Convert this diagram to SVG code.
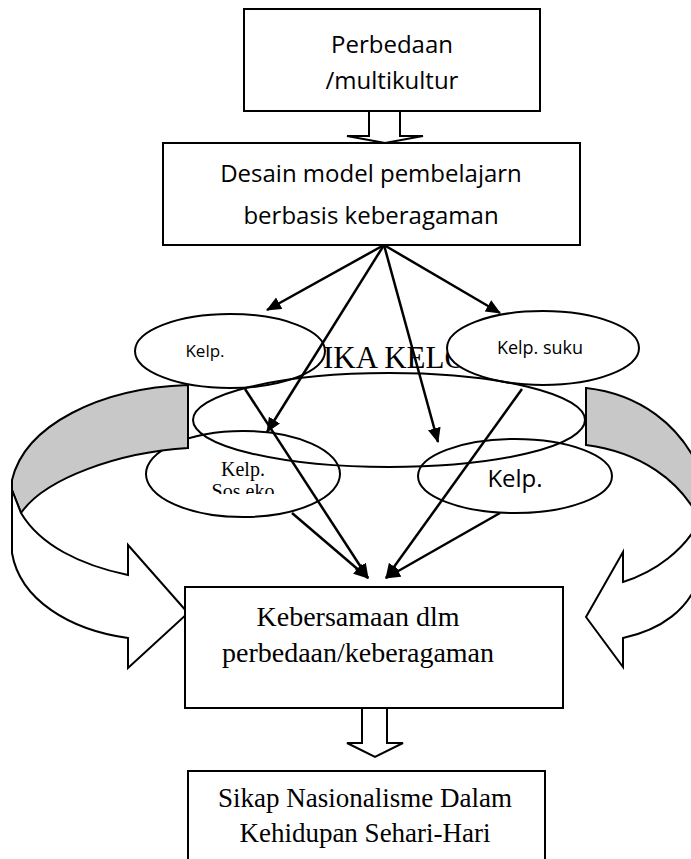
<svg xmlns="http://www.w3.org/2000/svg" width="691" height="859" viewBox="0 0 691 859">
<style>
.box{fill:#fff;stroke:#000;stroke-width:2}
.ell{fill:#fff;stroke:#000;stroke-width:2}
.ell0{fill:none;stroke:#000;stroke-width:2}
.blk{fill:#fff;stroke:#000;stroke-width:2;stroke-linejoin:miter}
.gray{fill:#c8c8c8;stroke:#000;stroke-width:2}
.sans{font-family:"Open Sans","Noto Sans",sans-serif;fill:#000}
.serif{font-family:"Liberation Serif","Times New Roman",serif;fill:#000}
.con line{stroke:#000;stroke-width:2.5;marker-end:url(#ah)}
</style>
<defs>
<marker id="ah" markerUnits="userSpaceOnUse" markerWidth="16" markerHeight="14" refX="14" refY="6.5" orient="auto">
<path d="M0,0 L15,6.5 L0,13 Z" fill="#000"/>
</marker>
<clipPath id="sosclip"><rect x="140" y="440" width="210" height="54"/></clipPath>
</defs>

<g id="box-perbedaan">
<rect class="box" x="244" y="9" width="296" height="102"/>
<text class="sans" font-size="24" x="392" y="53" text-anchor="middle">Perbedaan</text>
<text class="sans" font-size="24" x="392" y="89" text-anchor="middle">/multikultur</text>
</g>

<g id="block-arrow-1">
<polygon class="blk" points="369,111 400,111 400,136 423,136 385,143 347,136 369,136"/>
</g>

<g id="box-desain">
<rect class="box" x="163" y="143" width="417" height="102"/>
<text class="sans" font-size="24" x="371" y="182" text-anchor="middle">Desain model pembelajarn</text>
<text class="sans" font-size="24" x="371" y="224" text-anchor="middle">berbasis keberagaman</text>
</g>

<g id="label-dinamika">
<text class="serif" font-size="31" x="323" y="368">IKA KELO</text>
</g>

<g id="node-kelp-1">
<ellipse class="ell" cx="230" cy="351" rx="95" ry="37"/>
<text class="sans" font-size="17" x="205" y="357" text-anchor="middle">Kelp.</text>
</g>

<g id="node-kelp-suku">
<ellipse class="ell" cx="543" cy="348" rx="96" ry="37"/>
<text class="sans" font-size="18" x="540" y="354" text-anchor="middle">Kelp. suku</text>
</g>

<g id="node-kelp-sosek">
<ellipse class="ell" cx="243" cy="474" rx="97" ry="43"/>
<g clip-path="url(#sosclip)">
<text class="serif" font-size="20" x="243" y="476" text-anchor="middle">Kelp.</text>
<text class="serif" font-size="20" x="243" y="498" text-anchor="middle">Sos eko</text>
</g>
</g>

<g id="node-kelp-4">
<ellipse class="ell" cx="515" cy="476" rx="97" ry="37"/>
<text class="sans" font-size="24" x="515" y="487" text-anchor="middle">Kelp.</text>
</g>

<g id="node-dinamika-ellipse">
<ellipse class="ell0" cx="389" cy="420" rx="196" ry="47"/>
</g>

<g id="curved-arrow-left">
<path class="gray" d="M188,385 C100,388 25,425 12,480 L12,490 L21,513 C45,478 120,452 188,448 Z"/>
<path class="blk" d="M12,490 L12,553 C20,600 70,630 128,638 L128,668 L188,613 L128,545 L128,575 C80,565 40,545 21,513 Z"/>
</g>

<g id="curved-arrow-right">
<path class="gray" d="M586,388 C640,394 680,425 700,470 L700,520 C680,480 640,452 586,445 Z"/>
<path class="blk" d="M700,515 L700,575 C690,610 660,630 623,638 L623,667 L586,617 L623,552 L623,582 C655,572 685,550 700,520 Z"/>
</g>

<g id="box-kebersamaan">
<rect class="box" x="185" y="587" width="378" height="121"/>
<text class="serif" font-size="28" x="358" y="626" text-anchor="middle">Kebersamaan dlm</text>
<text class="serif" font-size="28" x="358" y="662" text-anchor="middle">perbedaan/keberagaman</text>
</g>

<g id="block-arrow-2">
<polygon class="blk" points="362,708 387,708 387,743 403,743 375,757 347,743 362,743"/>
</g>

<g id="box-sikap">
<rect class="box" x="188" y="771" width="357" height="100"/>
<text class="serif" font-size="27" x="365" y="807" text-anchor="middle">Sikap Nasionalisme Dalam</text>
<text class="serif" font-size="27" x="365" y="842" text-anchor="middle">Kehidupan Sehari-Hari</text>
</g>

<g id="connectors" class="con">
<line x1="384" y1="245" x2="267" y2="310"/>
<line x1="384" y1="245" x2="500" y2="313"/>
<line x1="384" y1="245" x2="267" y2="432"/>
<line x1="384" y1="245" x2="438" y2="442"/>
<line x1="245" y1="389" x2="368" y2="578"/>
<line x1="292" y1="513" x2="368" y2="578"/>
<line x1="522" y1="389" x2="386" y2="578"/>
<line x1="500" y1="513" x2="386" y2="578"/>
</g>
</svg>
